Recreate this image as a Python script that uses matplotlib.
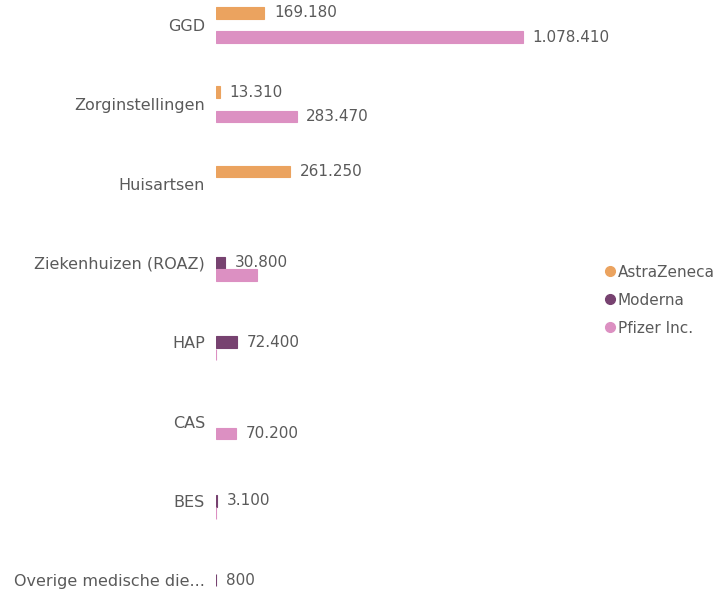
import matplotlib
matplotlib.use('Agg')
import matplotlib.pyplot as plt
import numpy as np
from matplotlib.lines import Line2D

categories = ['GGD', 'Zorginstellingen', 'Huisartsen', 'Ziekenhuizen (ROAZ)',
              'HAP', 'CAS', 'BES', 'Overige medische die...']
series = ['AstraZeneca', 'Moderna', 'Pfizer Inc.']
astrazeneca = [169180, 13310, 261250, 0, 0, 0, 0, 0]
moderna = [0, 0, 0, 30800, 72400, 0, 3100, 800]
pfizer = [1078410, 283470, 0, 144000, 1500, 70200, 1200, 0]
# which bars show a data label
show_az = [1, 1, 1, 0, 0, 0, 0, 0]
show_mod = [0, 0, 0, 1, 1, 0, 1, 1]
show_pf = [1, 1, 0, 0, 0, 1, 0, 0]

colors = ['#eba35f', '#774270', '#dc90c2']
txt = '#5a5a5a'

plt.rcParams['font.family'] = ['DejaVu Sans']

fig = plt.figure(figsize=(7.24, 5.93), dpi=100)
ax = fig.add_axes([216 / 724, 0, 384 / 724, 1])

y = np.arange(len(categories))
h = 0.145
offs = [-0.152, 0.0, 0.152]
data = [astrazeneca, moderna, pfizer]
shows = [show_az, show_mod, show_pf]

for vals, off, c, sh in zip(data, offs, colors, shows):
    for yi, v, s in zip(y, vals, sh):
        if v > 0:
            ax.barh(yi + off, v, height=h, color=c, edgecolor=c, linewidth=0.8)
        if s:
            lab = '{:,}'.format(v).replace(',', '.')
            ax.annotate(lab, (v, yi + off), xytext=(7, 0), textcoords='offset points',
                        va='center', ha='left', fontsize=11, color=txt)

ax.set_xlim(0, 384 * 3515)
ax.set_ylim((593 - 25) / 79.3, -25 / 79.3)
ax.set_yticks(y)
ax.set_yticklabels(categories, fontsize=11.5, color=txt)
ax.tick_params(axis='y', length=0, pad=8)
ax.set_xticks([])
for s in ax.spines.values():
    s.set_visible(False)

handles = [Line2D([], [], marker='o', linestyle='', color=c, markersize=7) for c in colors]
fig.legend(handles, series, loc='upper left', bbox_to_anchor=(595 / 724, 1 - 257 / 593),
           frameon=False, fontsize=11, handletextpad=0.0, labelspacing=0.85,
           labelcolor=txt, borderpad=0, handlelength=1.0)

fig.savefig('out.png', dpi=100)
